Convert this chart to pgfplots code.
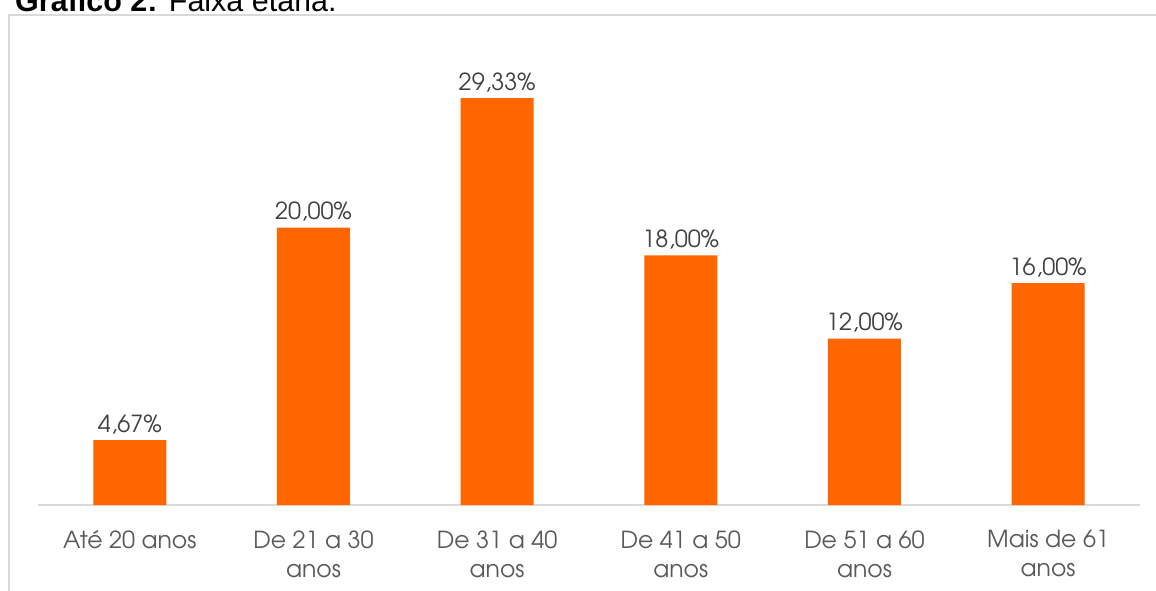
\documentclass[border=0pt]{standalone}
\usepackage{fontspec}
\setmainfont{TeX Gyre Adventor}
\newfontfamily\arial{Liberation Sans}
\usepackage{pgfplots}
\pgfplotsset{compat=1.18}
\definecolor{barc}{HTML}{FF6600}
\definecolor{txt}{HTML}{595959}
\definecolor{lbl}{HTML}{404040}
\definecolor{framec}{HTML}{D9D9D9}
\begin{document}
\begin{tikzpicture}[x=1pt,y=1pt]
\path[use as bounding box] (0,0) rectangle (1156,590);
\clip (0,0) rectangle (1156,590);
\fill[white] (0,0) rectangle (1156,590);
\draw[framec, line width=1.6pt] (9,-20) -- (9,575) -- (1180,575);
\node[anchor=base west, inner sep=0, font=\arial\fontsize{30.5}{36}\selectfont, text=black] at (15,578) {\textbf{Gráfico 2:} Faixa etária.};
\begin{axis}[
  at={(38pt,85pt)}, anchor=south west,
  scale only axis, width=1102pt, height=444pt,
  xmin=-0.5, xmax=5.5, ymin=0, ymax=32,
  ybar, bar width=73pt,
  hide y axis,
  axis x line*=bottom,
  x axis line style={framec, line width=1.5pt, -},
  xtick={0,1,2,3,4,5},
  xticklabels={Até 20 anos, {De 21 a 30\\anos}, {De 31 a 40\\anos}, {De 41 a 50\\anos}, {De 51 a 60\\anos}, {Mais de 61\\anos}},
  xtick style={draw=none},
  major tick length=0pt,
  xticklabel style={font=\fontsize{23.5}{29}\selectfont, text=txt, align=center, yshift=-22pt},
  point meta=explicit symbolic,
  nodes near coords,
  every node near coord/.append style={font=\fontsize{23.5}{26}\selectfont, text=lbl, anchor=base, yshift=8pt, inner sep=0pt},
  clip=false,
]
\addplot[fill=barc, draw=none] coordinates {
  (0,4.67) [4,67\%]
  (1,20.00) [20,00\%]
  (2,29.33) [29,33\%]
  (3,18.00) [18,00\%]
  (4,12.00) [12,00\%]
  (5,16.00) [16,00\%]
};
\end{axis}
\end{tikzpicture}
\end{document}
